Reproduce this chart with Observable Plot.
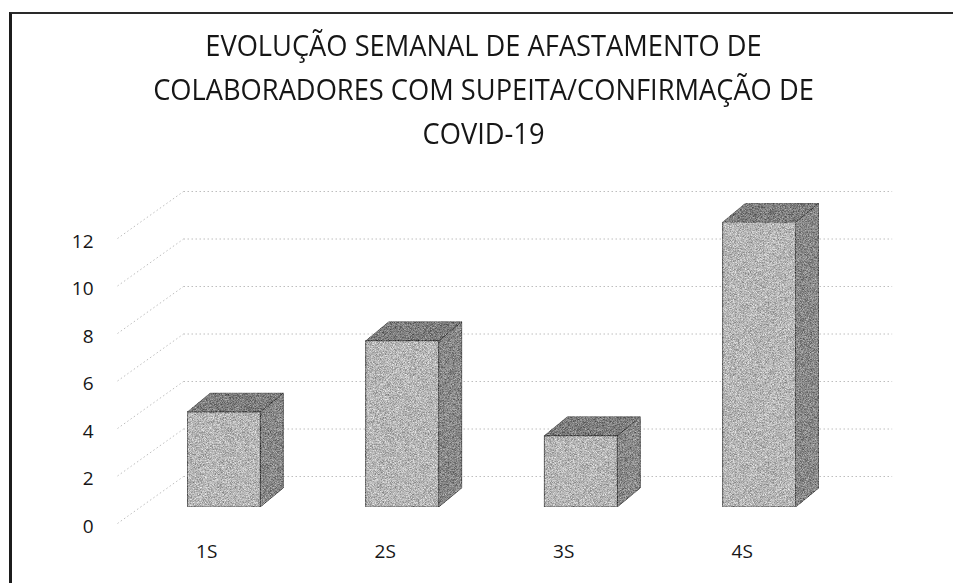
<!DOCTYPE html>
<html>
<head>
<meta charset="utf-8">
<script src="https://cdn.jsdelivr.net/npm/d3@7"></script>
<script src="https://cdn.jsdelivr.net/npm/@observablehq/plot@0.6"></script>
<style>
  html, body { margin: 0; padding: 0; background: #fff; }
  #page { position: relative; width: 953px; height: 583px; overflow: hidden; background: #fff; }
  #frame { position: absolute; left: 9px; top: 12px; right: -4px; bottom: -4px;
           border-left: 3px solid #1c1c1c; border-top: 2px solid #2a2a2a; }
  #title { position: absolute; left: 7px; top: 23px; width: 953px; text-align: center;
           font-family: "Open Sans", sans-serif; font-size: 29px; line-height: 44px; color: #161616;
           transform: scaleX(0.94); transform-origin: 50% 0; }
  #chart { position: absolute; left: 0; top: 170px; }
</style>
</head>
<body>
<div id="page">
  <div id="frame"></div>
  <div id="title">EVOLUÇÃO SEMANAL DE AFASTAMENTO DE<br>COLABORADORES COM SUPEITA/CONFIRMAÇÃO DE<br>COVID-19</div>
  <div id="chart"></div>
</div>
<script>
// Weekly count of staff on leave (suspected / confirmed COVID-19)
const weeks = ["1S", "2S", "3S", "4S"];
const absences = [4, 7, 3, 12];
const yTicks = [0, 2, 4, 6, 8, 10, 12];

// Plot geometry (pixels)
const W = 953, H = 413;
const mLeft = 117, mRight = 122, mTop = 68, mBottom = 60;
const pxX = (W - mLeft - mRight) / weeks.length;   // pixels per category slot
const pxY = (H - mTop - mBottom) / 12;             // pixels per unit

// Pseudo-3D depth: back wall offset and bar depth, in data units
const wallDX = 66 / pxX, wallDY = 47 / pxY;
const barDX = 23 / pxX, barDY = 19 / pxY;
const halfW = 36.5 / pxX;
const faceShift = {dx: 17.5, dy: -16};

const rows = weeks.map((w, i) => ({week: w, c: i + 0.5, v: absences[i]}));

const sidePts = rows.flatMap(d => [
  {week: d.week, x: d.c + halfW, y1: 0, y2: d.v},
  {week: d.week, x: d.c + halfW + barDX, y1: barDY, y2: d.v + barDY}
]);
const topPts = rows.flatMap(d => [
  {week: d.week, y: d.v, x1: d.c - halfW, x2: d.c + halfW},
  {week: d.week, y: d.v + barDY, x1: d.c - halfW + barDX, x2: d.c + halfW + barDX}
]);

const wallLines = yTicks.map(v => ({v}));
const grid = {stroke: "#a8a8a8", strokeWidth: 1, strokeDasharray: "1.5,2.5", strokeOpacity: 0.75};

const chart = Plot.plot({
  width: W,
  height: H,
  marginLeft: mLeft, marginRight: mRight, marginTop: mTop, marginBottom: mBottom,
  style: {fontFamily: "'Open Sans', sans-serif", fontSize: "19px", color: "#161616", background: "transparent"},
  x: {type: "linear", domain: [0, weeks.length]},
  y: {domain: [0, 12]},
  marks: [
    // floor / side-wall diagonals
    Plot.link(wallLines, {x1: d => 0, y1: d => d.v, x2: d => wallDX, y2: d => d.v + wallDY, ...grid}),
    // back wall gridlines
    Plot.link(wallLines, {x1: d => wallDX, y1: d => d.v + wallDY, x2: d => weeks.length + wallDX - 0.03, y2: d => d.v + wallDY, ...grid}),
    // bar side faces
    Plot.areaY(sidePts, {x: "x", y1: "y1", y2: "y2", z: "week", fill: "#888888", stroke: "#3c3c3c", strokeWidth: 0.7, ...faceShift}),
    // bar top faces
    Plot.areaX(topPts, {y: "y", x1: "x1", x2: "x2", z: "week", fill: "#7e7e7e", stroke: "#4a4a4a", strokeWidth: 0.5, ...faceShift}),
    // bar front faces
    Plot.rect(rows, {x1: d => d.c - halfW, x2: d => d.c + halfW, y1: d => 0, y2: "v", fill: "#b6b6b6", stroke: "#444", strokeWidth: 0.8, ...faceShift}),
    Plot.axisY({ticks: yTicks, tickSize: 0, tickPadding: 24, dy: 3, fontSize: 19}),
    Plot.axisX({ticks: rows.map(d => d.c), tickFormat: t => weeks[Math.floor(t)], tickSize: 0, tickPadding: 21, fontSize: 19})
  ]
});

// halftone-like grain on the bar faces
const svg = d3.select(chart);
const defs = svg.insert("defs", ":first-child");
const f = defs.append("filter").attr("id", "grain").attr("x", 0).attr("y", 0).attr("width", 1).attr("height", 1)
  .attr("color-interpolation-filters", "sRGB");
f.append("feTurbulence").attr("type", "fractalNoise").attr("baseFrequency", 1.6).attr("numOctaves", 1).attr("seed", 7).attr("result", "noise");
f.append("feColorMatrix").attr("in", "noise").attr("type", "matrix")
  .attr("values", "1 0 0 0 0  1 0 0 0 0  1 0 0 0 0  0 0 0 0 1").attr("result", "grey");
f.append("feComposite").attr("in", "SourceGraphic").attr("in2", "grey").attr("operator", "arithmetic")
  .attr("k1", 0).attr("k2", 1).attr("k3", 0.8).attr("k4", -0.4).attr("result", "mix");
f.append("feComposite").attr("in", "mix").attr("in2", "SourceAlpha").attr("operator", "in");
svg.selectAll('g[aria-label="rect"], g[aria-label="area"]').attr("filter", "url(#grain)");

document.getElementById("chart").append(chart);
</script>
</body>
</html>
